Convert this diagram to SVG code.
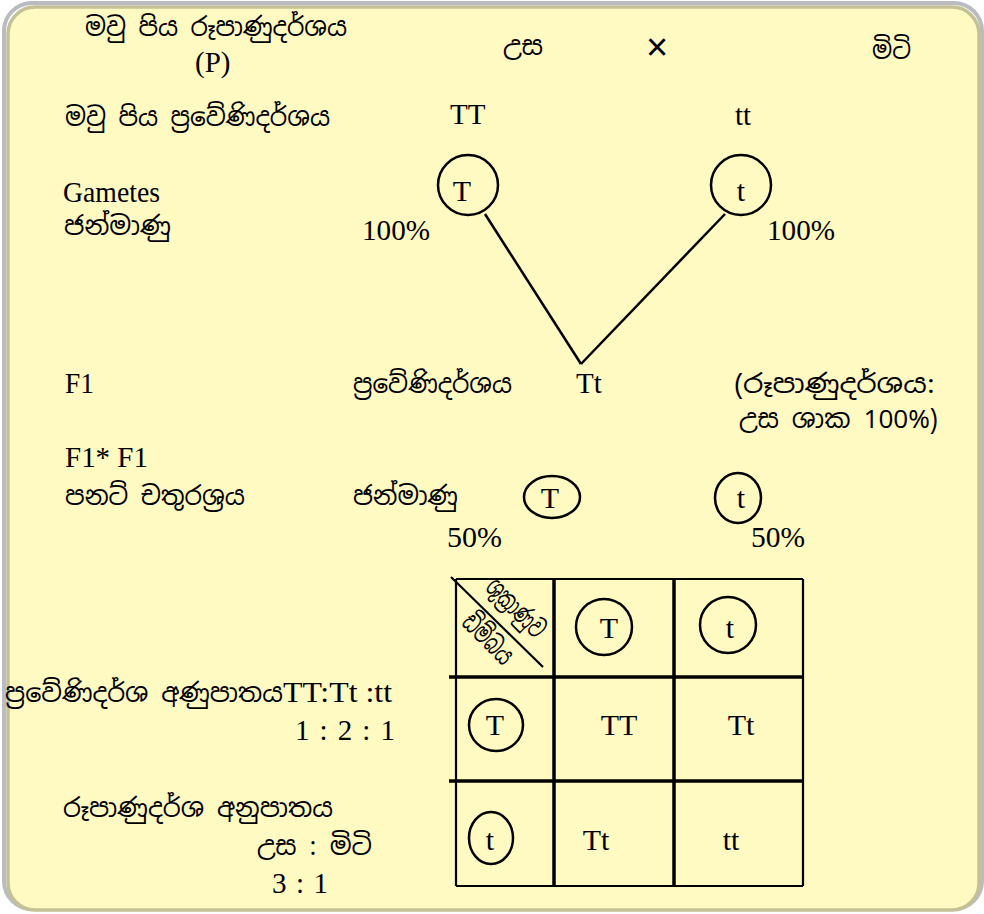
<svg xmlns="http://www.w3.org/2000/svg" width="984" height="914" viewBox="0 0 984 914">
<style>
.t{font-family:"Liberation Serif","Times New Roman",serif;font-size:29px;fill:#000}
.s{font-family:"Noto Sans Sinhala","Iskoola Pota","Liberation Serif",serif;font-size:26px;fill:#000}
.c{font-family:"Liberation Serif","Times New Roman",serif;font-size:30px;fill:#000;text-anchor:middle}
.ring{fill:none;stroke:#000;stroke-width:2.5}
.ln{stroke:#000;stroke-width:2.5;fill:none}
.thin{stroke:#000;stroke-width:2.2;fill:none}
.thick{stroke:#000;stroke-width:3.5;fill:none}
</style>
<g id="frame">
<rect x="4" y="3" width="978" height="906" rx="28" fill="none" stroke="#b9bcc0" stroke-width="4"/>
<rect x="8" y="7" width="971" height="903" rx="27" fill="#fff9c2" stroke="#c5c196" stroke-width="3.5"/>
</g>
<g id="parent-phenotype">
<text class="s" x="85" y="36" textLength="262" lengthAdjust="spacingAndGlyphs">මවු පිය රූපාණුදර්ශය</text>
<text class="t" x="195" y="72" font-size="31">(P)</text>
<text class="s" x="503" y="55" textLength="40" lengthAdjust="spacingAndGlyphs">උස</text>
<text x="646" y="60" font-family="Liberation Sans, Arial, sans-serif" font-size="38">×</text>
<text class="s" x="872" y="59" textLength="39" lengthAdjust="spacingAndGlyphs">මිටි</text>
</g>
<g id="parent-genotype">
<text class="s" x="65" y="126" textLength="265" lengthAdjust="spacingAndGlyphs">මවු පිය ප්‍රවේණිදර්ශය</text>
<text class="t" x="450" y="124" font-size="32">TT</text>
<text class="t" x="735" y="125" font-size="32">tt</text>
</g>
<g id="gametes-label">
<text class="t" x="63" y="202" textLength="97" lengthAdjust="spacingAndGlyphs">Gametes</text>
<text class="s" x="64" y="235" textLength="107" lengthAdjust="spacingAndGlyphs">ජන්මාණු</text>
<text class="t" x="362" y="240" textLength="68" lengthAdjust="spacingAndGlyphs">100%</text>
<text class="t" x="767" y="240" textLength="68" lengthAdjust="spacingAndGlyphs">100%</text>
</g>
<g id="gamete-T">
<ellipse class="ring" cx="468" cy="185" rx="30" ry="30"/>
<text class="c" x="462" y="201">T</text>
</g>
<g id="gamete-t">
<ellipse class="ring" cx="741" cy="185" rx="30" ry="30"/>
<text class="c" x="741" y="201">t</text>
</g>
<g id="connectors">
<line class="ln" x1="485" y1="214" x2="581" y2="364"/>
<line class="ln" x1="725" y1="214" x2="581" y2="364"/>
</g>
<g id="f1">
<text class="t" x="65" y="393" textLength="29" lengthAdjust="spacingAndGlyphs">F1</text>
<text class="s" x="353" y="393" textLength="159" lengthAdjust="spacingAndGlyphs">ප්‍රවේණිදර්ශය</text>
<text class="t" x="576" y="393">Tt</text>
<text class="s" x="734" y="393" textLength="201" lengthAdjust="spacingAndGlyphs">(රූපාණුදර්ශය:</text>
<text class="s" x="739" y="428" textLength="199" lengthAdjust="spacingAndGlyphs">උස ශාක 100%)</text>
</g>
<g id="f1-cross">
<text class="t" x="65" y="467" textLength="83" lengthAdjust="spacingAndGlyphs">F1* F1</text>
<text class="s" x="65" y="505" textLength="180" lengthAdjust="spacingAndGlyphs">පනට් චතුරශ්‍රය</text>
<text class="s" x="353" y="505" textLength="105" lengthAdjust="spacingAndGlyphs">ජන්මාණු</text>
<text class="t" x="447" y="547" textLength="55" lengthAdjust="spacingAndGlyphs">50%</text>
<text class="t" x="751" y="547" textLength="54" lengthAdjust="spacingAndGlyphs">50%</text>
</g>
<g id="f1-gamete-T">
<ellipse class="ring" cx="552" cy="497" rx="28" ry="21"/>
<text class="c" x="550" y="508">T</text>
</g>
<g id="f1-gamete-t">
<ellipse class="ring" cx="738" cy="498" rx="23" ry="25"/>
<text class="c" x="741" y="508">t</text>
</g>
<g id="punnett">
<line class="thin" x1="456" y1="579" x2="803" y2="579"/>
<line class="thin" x1="456" y1="579" x2="456" y2="886"/>
<line class="thin" x1="803" y1="579" x2="803" y2="886"/>
<line class="thin" x1="456" y1="886" x2="803" y2="886"/>
<line class="thick" x1="554" y1="579" x2="554" y2="887"/>
<line class="thick" x1="674" y1="579" x2="674" y2="887"/>
<line class="thick" x1="449" y1="677" x2="803" y2="677"/>
<line class="thick" x1="449" y1="781" x2="803" y2="781"/>
<line class="thin" x1="451" y1="577" x2="543" y2="667"/>
<text class="s" font-size="16" text-anchor="middle" transform="translate(514,610) rotate(45)" dy="6" textLength="72" lengthAdjust="spacingAndGlyphs">ශුක්‍රාණුව</text>
<text class="s" font-size="16" text-anchor="middle" transform="translate(486,641) rotate(45)" dy="6" textLength="60" lengthAdjust="spacingAndGlyphs">ඩිම්බය</text>
<ellipse class="ring" cx="604" cy="627" rx="28" ry="28"/>
<text class="c" x="609" y="638">T</text>
<ellipse class="ring" cx="728" cy="625" rx="28" ry="28"/>
<text class="c" x="730" y="638">t</text>
<ellipse class="ring" cx="496" cy="725" rx="27" ry="26"/>
<text class="c" x="495" y="735">T</text>
<text class="c" x="619" y="735">TT</text>
<text class="c" x="741" y="735">Tt</text>
<ellipse class="ring" cx="491" cy="838" rx="22" ry="26"/>
<text class="c" x="490" y="850">t</text>
<text class="c" x="596" y="850">Tt</text>
<text class="c" x="731" y="850">tt</text>
</g>
<g id="ratios">
<text class="s" x="5" y="702" textLength="278" lengthAdjust="spacingAndGlyphs">ප්‍රවේණිදර්ශ අණුපාතය</text>
<text class="t" x="283" y="702" textLength="109" lengthAdjust="spacingAndGlyphs">TT:Tt :tt</text>
<text class="t" x="295" y="740" textLength="100" lengthAdjust="spacing">1  :  2 : 1</text>
<text class="s" x="63" y="817" textLength="270" lengthAdjust="spacingAndGlyphs">රූපාණුදර්ශ අනුපාතය</text>
<text class="s" x="257" y="855" textLength="115" lengthAdjust="spacingAndGlyphs">උස  : මිටි</text>
<text class="t" x="272" y="893" textLength="56" lengthAdjust="spacing">3 :  1</text>
</g>
</svg>
